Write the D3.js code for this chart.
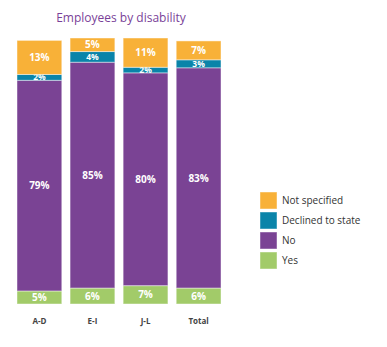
<!DOCTYPE html>
<html><head><meta charset="utf-8">
<script src="https://cdn.jsdelivr.net/npm/d3@7"></script>
<style>body{margin:0;background:#fff;font-family:"Open Sans",sans-serif;}</style>
</head><body><div id="chart"></div>
<script>
const categories = ["A-D","E-I","J-L","Total"];
const seriesNames = ["Yes","No","Declined to state","Not specified"];
const yesVals = [4.9, 6.0, 6.9, 6.0];
const noVals = [79.2, 84.9, 80.0, 82.8];
const declinedVals = [2.2, 4.0, 2.1, 3.0];
const notSpecVals = [12.8, 5.1, 11.0, 7.1];
const yesLabels = ["5%","6%","7%","6%"];
const noLabels = ["79%","85%","80%","83%"];
const declinedLabels = ["2%","4%","2%","3%"];
const notSpecLabels = ["13%","5%","11%","7%"];
const colors = ["#a2cb69","#7a4394","#0a84a9","#f8b138"];

const W=387,H=347;
const svg=d3.select("#chart").append("svg").attr("width",W).attr("height",H);
const x=d3.scaleBand().domain(categories).range([17,221]).paddingInner(0.156).paddingOuter(0);
const y=d3.scaleLinear().domain([0,100]).range([304,38]);

svg.append("text").attr("x",121).attr("y",22).attr("text-anchor","middle")
  .attr("fill","#7a3f98").attr("font-size",12).text("Employees by disability");

const valueSets=[yesVals,noVals,declinedVals,notSpecVals];
const labelSets=[yesLabels,noLabels,declinedLabels,notSpecLabels];
const rows=categories.map((c,i)=>{const o={cat:c};seriesNames.forEach((s,j)=>o[s]=valueSets[j][i]);return o;});
const stacked=d3.stack().keys(seriesNames)(rows);

stacked.forEach((layer,j)=>{
  const g=svg.append("g");
  g.selectAll("rect").data(layer).join("rect")
    .attr("x",d=>x(d.data.cat)).attr("width",x.bandwidth())
    .attr("y",d=>y(d[1])).attr("height",d=>y(d[0])-y(d[1]))
    .attr("fill",colors[j]).attr("stroke","rgba(255,255,255,0.45)").attr("stroke-width",1);
  g.selectAll("text").data(layer).join("text")
    .attr("x",d=>x(d.data.cat)+x.bandwidth()/2)
    .attr("y",d=>{const h=y(d[0])-y(d[1]);const fs=h<12?8.5:10;return (y(d[0])+y(d[1]))/2+fs*0.36;})
    .attr("text-anchor","middle").attr("fill","#fff").attr("font-weight","bold")
    .attr("font-size",d=>(y(d[0])-y(d[1]))<12?8.5:10)
    .text((d,i)=>labelSets[j][i]);
});

svg.append("g").selectAll("text").data(categories).join("text")
  .attr("x",d=>x(d)+x.bandwidth()/2).attr("y",324).attr("text-anchor","middle")
  .attr("fill","#444").attr("font-weight","bold").attr("font-size",8).text(d=>d);

const legendOrder=[3,2,1,0];
const lg=svg.append("g");
legendOrder.forEach((j,k)=>{
  const yy=192+k*20;
  lg.append("rect").attr("x",260).attr("y",yy).attr("width",17).attr("height",17)
    .attr("fill",colors[j]).attr("stroke","rgba(255,255,255,0.45)");
  lg.append("text").attr("x",282).attr("y",yy+12).attr("fill","#333").attr("font-size",10).text(seriesNames[j]);
});
</script></body></html>
